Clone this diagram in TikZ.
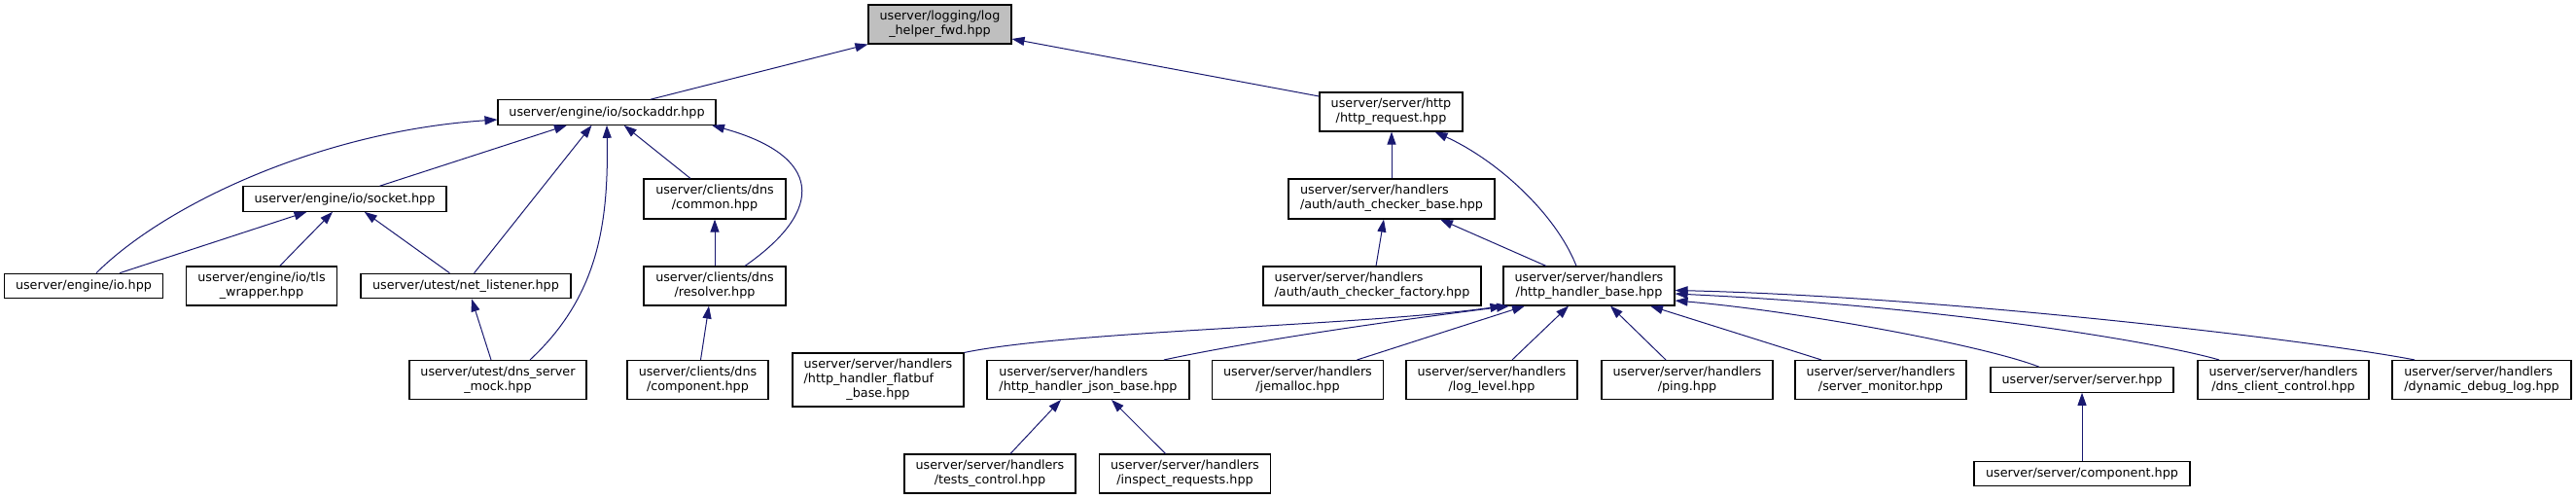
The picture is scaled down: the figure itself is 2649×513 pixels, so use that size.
\documentclass[tikz,border=0pt]{standalone}
\usepackage{fontspec}
\setmainfont{DejaVu Sans}
\usetikzlibrary{arrows.meta}
\definecolor{edgeblue}{HTML}{191970}
\definecolor{curgray}{HTML}{BFBFBF}
\newcommand{\twoL}[2]{\begin{tabular}{@{}l@{}}#1\\\multicolumn{1}{@{}c@{}}{#2}\end{tabular}}
\newcommand{\threeL}[3]{\begin{tabular}{@{}l@{}}#1\\#2\\\multicolumn{1}{@{}c@{}}{#3}\end{tabular}}
\tikzset{
  box/.style={draw=black, fill=white, line width=1.1pt, inner sep=0pt, text=black,
    font=\fontsize{12.75}{15}\selectfont, minimum height=40pt, minimum width=176pt},
  onebox/.style={box, minimum height=25.5pt},
  edge/.style={draw=edgeblue, line width=1pt, -{Triangle[length=13pt,width=9pt]}}
}
\begin{document}
\begin{tikzpicture}[x=1pt,y=-1pt]
\fill[white] (0,0) rectangle (2649,513);
\useasboundingbox (0,0) rectangle (2649,513);

% nodes
\node[box, minimum width=147pt, fill=curgray] (lhf) at (966.5,25) {\twoL{userver/logging/log}{\_helper\_fwd.hpp}};
\node[onebox, minimum width=224pt] (sockaddr) at (624,115.5) {userver/engine/io/sockaddr.hpp};
\node[box, minimum width=147pt] (httpreq) at (1430.5,115) {\twoL{userver/server/http}{/http\_request.hpp}};
\node[onebox, minimum width=209pt] (socket) at (354.5,204.5) {userver/engine/io/socket.hpp};
\node[box, minimum width=146pt, minimum height=41pt] (dnscommon) at (735,204.5) {\twoL{userver/clients/dns}{/common.hpp}};
\node[box, minimum width=212pt, minimum height=41pt] (authbase) at (1431,204.5) {\twoL{userver/server/handlers}{/auth/auth\_checker\_base.hpp}};
\node[onebox, minimum width=163.5pt] (iohpp) at (86,294) {userver/engine/io.hpp};
\node[box, minimum width=155pt] (tls) at (269,294) {\twoL{userver/engine/io/tls}{\_wrapper.hpp}};
\node[onebox, minimum width=216pt] (netlistener) at (479,294) {userver/utest/net\_listener.hpp};
\node[box, minimum width=146pt] (resolver) at (735,294) {\twoL{userver/clients/dns}{/resolver.hpp}};
\node[box, minimum width=224pt] (authfactory) at (1411,294) {\twoL{userver/server/handlers}{/auth/auth\_checker\_factory.hpp}};
\node[box] (hhb) at (1634,294) {\twoL{userver/server/handlers}{/http\_handler\_base.hpp}};
\node[box, minimum width=182pt] (mock) at (512,390.5) {\twoL{userver/utest/dns\_server}{\_mock.hpp}};
\node[box, minimum width=145pt] (dnscomponent) at (717.5,390.5) {\twoL{userver/clients/dns}{/component.hpp}};
\node[box, minimum height=55pt] (flatbuf) at (903,390.5) {\threeL{userver/server/handlers}{/http\_handler\_flatbuf}{\_base.hpp}};
\node[box, minimum width=208pt] (jsonbase) at (1119,390.5) {\twoL{userver/server/handlers}{/http\_handler\_json\_base.hpp}};
\node[box] (jemalloc) at (1334.5,390.5) {\twoL{userver/server/handlers}{/jemalloc.hpp}};
\node[box] (loglevel) at (1534,390.5) {\twoL{userver/server/handlers}{/log\_level.hpp}};
\node[box] (ping) at (1735,390.5) {\twoL{userver/server/handlers}{/ping.hpp}};
\node[box] (servermonitor) at (1934,390.5) {\twoL{userver/server/handlers}{/server\_monitor.hpp}};
\node[onebox, minimum width=188pt] (serverhpp) at (2141,390.5) {userver/server/server.hpp};
\node[box] (dnsclientcontrol) at (2348,390.5) {\twoL{userver/server/handlers}{/dns\_client\_control.hpp}};
\node[box, minimum width=184pt] (dynamicdebug) at (2552,390.5) {\twoL{userver/server/handlers}{/dynamic\_debug\_log.hpp}};
\node[box] (testscontrol) at (1018,487) {\twoL{userver/server/handlers}{/tests\_control.hpp}};
\node[box] (inspect) at (1218.5,487) {\twoL{userver/server/handlers}{/inspect\_requests.hpp}};
\node[onebox, minimum width=222pt] (servercomponent) at (2141,487) {userver/server/component.hpp};

% edges
\draw[edge] ([xshift=45pt]sockaddr.north) -- (lhf.south west);
\draw[edge] ([yshift=16pt]httpreq.west) -- ([yshift=-15pt]lhf.east);
\draw[edge] ([xshift=36pt]socket.north) -- ([xshift=-41pt]sockaddr.south);
\draw[edge] ([xshift=13pt]iohpp.north) .. controls (170,210) and (330,135) .. ([yshift=-7.5pt]sockaddr.west);
\draw[edge] ([xshift=8.6pt]netlistener.north) -- ([xshift=-15.5pt]sockaddr.south);
\draw[edge] ([xshift=33pt]mock.north) .. controls (615,305) and (626,230) .. (sockaddr.south);
\draw[edge] ([xshift=-25pt]dnscommon.north) -- ([xshift=17.7pt]sockaddr.south);
\draw[edge] ([xshift=31pt]resolver.north) .. controls (850,215) and (845,160) .. ([xshift=108pt]sockaddr.south);
\draw[edge] ([xshift=37pt]iohpp.north) -- ([xshift=-39pt]socket.south);
\draw[edge] ([xshift=18.7pt]tls.north) -- ([xshift=-12.5pt]socket.south);
\draw[edge] ([xshift=-16.6pt]netlistener.north) -- ([xshift=20.2pt]socket.south);
\draw[edge] (resolver.north) -- (dnscommon.south);
\draw[edge] ([xshift=-7pt]mock.north) -- ([xshift=6pt]netlistener.south);
\draw[edge] ([xshift=3pt]dnscomponent.north) -- ([xshift=-6pt]resolver.south);
\draw[edge] (authbase.north) -- (authbase.north |- httpreq.south);
\draw[edge] ([xshift=-13pt]hhb.north) .. controls (1600,220) and (1540,165) .. ([xshift=45pt]httpreq.south);
\draw[edge] ([xshift=4pt]authfactory.north) -- ([xshift=-8pt]authbase.south);
\draw[edge] ([xshift=-44pt]hhb.north) -- ([xshift=50pt]authbase.south);
\draw[edge] (flatbuf.north east) .. controls (1100,340) and (1400,335) .. (hhb.south west);
\draw[edge] ([xshift=78pt]jsonbase.north) .. controls (1290,350) and (1430,330) .. ([xshift=-82pt]hhb.south);
\draw[edge] ([xshift=61pt]jemalloc.north) -- ([xshift=-66pt]hhb.south);
\draw[edge] ([xshift=21pt]loglevel.north) -- ([xshift=-21pt]hhb.south);
\draw[edge] ([xshift=-22pt]ping.north) -- ([xshift=22pt]hhb.south);
\draw[edge] ([xshift=-61pt]servermonitor.north) -- ([xshift=63pt]hhb.south);
\draw[edge] ([xshift=-44pt]serverhpp.north) .. controls (2040,355) and (1850,320) .. ([yshift=-15pt]hhb.east);
\draw[edge] ([xshift=-66pt]dnsclientcontrol.north) .. controls (2220,352) and (2000,315) .. ([yshift=-8pt]hhb.east);
\draw[edge] ([xshift=-69pt]dynamicdebug.north) .. controls (2380,350) and (2000,305) .. ([yshift=-4.5pt]hhb.east);
\draw[edge] ([xshift=21pt]testscontrol.north) -- ([xshift=-28pt]jsonbase.south);
\draw[edge] ([xshift=-20pt]inspect.north) -- ([xshift=24pt]jsonbase.south);
\draw[edge] (servercomponent.north) -- (serverhpp.south);
\end{tikzpicture}
\end{document}
